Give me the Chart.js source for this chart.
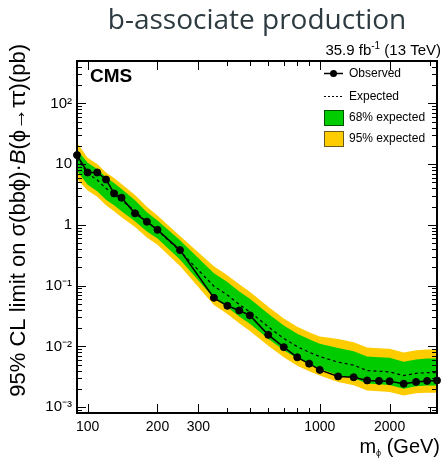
<!DOCTYPE html>
<html><head><meta charset="utf-8">
<script src="https://cdn.jsdelivr.net/npm/chart.js@4/dist/chart.umd.min.js"></script>
<style>html,body{margin:0;padding:0;background:#fff;}#wrap{width:442px;height:460px;}</style>
</head><body><div id="wrap"><canvas id="c" width="442" height="460"></canvas></div>
<script>
const masses = [90,100,110,120,130,140,160,180,200,250,350,400,450,500,600,700,800,900,1000,1200,1400,1600,1800,2000,2300,2600,2900,3200];
const observed = [14.1,7.3,7.3,5.6,3.3,2.8,1.55,1.13,0.83,0.385,0.063,0.0466,0.039,0.0324,0.0155,0.0097,0.0066,0.0052,0.0041,0.0032,0.0031,0.00275,0.0027,0.00267,0.00242,0.0026,0.0027,0.00275];
const expected = [12.6,7.0,5.5,4.0,3.2,2.55,1.7,1.1,0.82,0.37,0.098,0.070,0.049,0.037,0.021,0.0135,0.0099,0.008,0.0068,0.0055,0.0049,0.0040,0.0039,0.0038,0.0033,0.0036,0.0037,0.0037];
const band68Up = [17.5,10.6,8.3,6.1,4.9,3.9,2.55,1.62,1.18,0.56,0.160,0.115,0.080,0.061,0.0344,0.0221,0.0162,0.0131,0.0111,0.0094,0.0083,0.0068,0.0066,0.0065,0.0056,0.0061,0.0063,0.0063];
const band68Down = [7.8,4.6,3.6,2.6,2.1,1.68,1.15,0.78,0.60,0.27,0.062,0.044,0.031,0.0235,0.0133,0.0086,0.0063,0.0051,0.0043,0.00336,0.0030,0.00244,0.00238,0.00232,0.0020,0.0022,0.00226,0.00226];
const band95Up = [22.5,12.8,10.1,7.3,5.9,4.7,3.1,2.0,1.43,0.66,0.209,0.149,0.105,0.079,0.045,0.0288,0.0211,0.0171,0.0145,0.0132,0.0117,0.0096,0.0093,0.0091,0.0079,0.0086,0.0089,0.0089];
const band95Down = [5.7,3.7,2.9,2.1,1.68,1.34,0.92,0.62,0.47,0.21,0.048,0.034,0.024,0.018,0.0102,0.0066,0.0048,0.0039,0.0033,0.00258,0.0023,0.00187,0.00183,0.00178,0.00155,0.00169,0.00173,0.00173];
const xTickValues = [100,200,300,1000,2000];
const xTickLabels = ['100','200','300','1000','2000'];
const xMinorValues = [90,400,500,600,700,800,900,3000];
const yTickValues = [1e-3,1e-2,1e-1,1,10,100];
const yTickLabels = ['10\u207B\u00B3','10\u207B\u00B2','10\u207B\u00B9','1','10','10\u00B2'];
const legendLabels = ['Observed','Expected','68% expected','95% expected'];

const SANS = '"Liberation Sans", Arial, sans-serif';
const pts = arr => masses.map((m,i)=>({x:m, y:arr[i]}));

function drawParts(ctx, parts, x, y){
  let cx = x;
  for (const p of parts){
    ctx.font = p.font;
    ctx.fillText(p.t, cx, y + (p.dy||0));
    cx += ctx.measureText(p.t).width;
  }
  return cx - x;
}
function partsWidth(ctx, parts){
  let w = 0;
  for (const p of parts){ ctx.font = p.font; w += ctx.measureText(p.t).width; }
  return w;
}

const decor = {
  id:'decor',
  afterDraw(chart){
    const ctx = chart.ctx, a = chart.chartArea;
    const xs = chart.scales.x, ys = chart.scales.y;
    ctx.save();
    ctx.strokeStyle = '#000';
    ctx.lineWidth = 1;
    for (let d=-4; d<=2; d++){
      for (let k=1; k<=9; k++){
        const v = k*Math.pow(10,d);
        if (v < ys.min || v > ys.max) continue;
        const p = Math.round(ys.getPixelForValue(v))+0.5;
        const len = k===1 ? 9 : 5;
        ctx.beginPath();
        ctx.moveTo(a.left, p); ctx.lineTo(a.left+len, p);
        ctx.moveTo(a.right, p); ctx.lineTo(a.right-len, p);
        ctx.stroke();
      }
    }
    const xt = xTickValues.map(v=>[v,9]).concat(xMinorValues.map(v=>[v,5]));
    for (const [v,len] of xt){
      if (v < xs.min || v > xs.max) continue;
      const p = Math.round(xs.getPixelForValue(v))+0.5;
      ctx.beginPath();
      ctx.moveTo(p, a.bottom); ctx.lineTo(p, a.bottom-len);
      ctx.moveTo(p, a.top); ctx.lineTo(p, a.top+len);
      ctx.stroke();
    }
    ctx.lineWidth = 2;
    ctx.strokeRect(a.left, a.top, a.right-a.left, a.bottom-a.top);

    ctx.fillStyle = '#000';
    ctx.textBaseline = 'alphabetic';
    ctx.font = 'bold 19px ' + SANS;
    ctx.textAlign = 'left';
    ctx.fillText('CMS', 90, 82);
    const lumi = [
      {t:'35.9 fb', font:'15px '+SANS},
      {t:'-1', font:'10px '+SANS, dy:-6},
      {t:' (13 TeV)', font:'15px '+SANS}
    ];
    const lw = partsWidth(ctx, lumi);
    drawParts(ctx, lumi, 441 - lw, 55);
    const xtitle = [
      {t:'m', font:'20px '+SANS},
      {t:'\u03D5', font:'9px '+SANS, dy:3},
      {t:' (GeV)', font:'20px '+SANS}
    ];
    const xw = partsWidth(ctx, xtitle);
    drawParts(ctx, xtitle, 440 - xw, 453);
    const ytitle = [
      {t:'95% CL limit on \u03C3(bb\u03D5)\u00B7', font:'22px '+SANS},
      {t:'B', font:'italic 22px '+SANS},
      {t:'(\u03D5\u2192\u03C4\u03C4)(pb)', font:'22px '+SANS}
    ];
    const yw = partsWidth(ctx, ytitle);
    ctx.save();
    ctx.translate(25, 44 + yw);
    ctx.rotate(-Math.PI/2);
    drawParts(ctx, ytitle, 0, 0);
    ctx.restore();

    ctx.textBaseline = 'middle';
    ctx.font = '12px ' + SANS;
    ctx.lineWidth = 1.5;
    ctx.beginPath(); ctx.moveTo(324,73.5); ctx.lineTo(343,73.5); ctx.stroke();
    ctx.beginPath(); ctx.arc(333.5,73.5,3.5,0,Math.PI*2); ctx.fill();
    ctx.fillText(legendLabels[0], 349, 73.5);
    ctx.lineWidth = 1;
    ctx.setLineDash([2,2]);
    ctx.beginPath(); ctx.moveTo(324,96.5); ctx.lineTo(343,96.5); ctx.stroke();
    ctx.setLineDash([]);
    ctx.fillText(legendLabels[1], 349, 96.5);
    ctx.fillStyle = '#00cc00'; ctx.fillRect(324.5,110.5,19,15);
    ctx.strokeStyle = '#005000'; ctx.strokeRect(324.5,110.5,19,15);
    ctx.fillStyle = '#000'; ctx.fillText(legendLabels[2], 349, 118);
    ctx.fillStyle = '#ffcc00'; ctx.fillRect(324.5,131.5,19,15);
    ctx.strokeStyle = '#6b5a20'; ctx.strokeRect(324.5,131.5,19,15);
    ctx.fillStyle = '#000'; ctx.fillText(legendLabels[3], 349, 139);
    ctx.restore();
  }
};

const none = 'rgba(0,0,0,0)';
new Chart(document.getElementById('c'), {
  type:'line',
  data:{ datasets:[
    {label:'Observed', data:pts(observed), borderColor:'#000', backgroundColor:'#000', borderWidth:1.5,
     pointRadius:3.5, pointBackgroundColor:'#000', pointBorderColor:'#000', pointBorderWidth:1, fill:false, order:0, clip:6},
    {label:'Expected', data:pts(expected), borderColor:'#000', borderWidth:1.2, borderDash:[3,3], pointRadius:0, fill:false, order:1},
    {label:'68% up', data:pts(band68Up), borderColor:none, borderWidth:0, pointRadius:0, backgroundColor:'#00cc00', fill:'+1', order:2},
    {label:'68% down', data:pts(band68Down), borderColor:none, borderWidth:0, pointRadius:0, backgroundColor:none, fill:false, order:3},
    {label:'95% up', data:pts(band95Up), borderColor:none, borderWidth:0, pointRadius:0, backgroundColor:'#ffcc00', fill:'+1', order:4},
    {label:'95% down', data:pts(band95Down), borderColor:none, borderWidth:0, pointRadius:0, backgroundColor:none, fill:false, order:5}
  ]},
  options:{
    responsive:false, animation:false, devicePixelRatio:1,
    layout:{padding:{left:0,right:2,top:0,bottom:0}},
    elements:{line:{tension:0}},
    plugins:{
      legend:{display:false},
      tooltip:{enabled:false},
      title:{display:true, text:'b-associate production', fullSize:false, align:'center', color:'#2d3b41',
        font:{family:'"Open Sans", sans-serif', size:28, weight:'normal'}, padding:{top:4,bottom:23.4}}
    },
    scales:{
      x:{type:'logarithmic', min:90, max:3200,
        afterBuildTicks: s => { s.ticks = xTickValues.map(v=>({value:v})); },
        afterFit: s => { s.height = 47; },
        ticks:{autoSkip:false, maxRotation:0, padding:6, color:'#000', font:{family:SANS, size:14},
          callback: v => xTickLabels[xTickValues.indexOf(v)]},
        grid:{display:false, drawTicks:false}, border:{display:false}},
      y:{type:'logarithmic', min:8e-4, max:500,
        afterBuildTicks: s => { s.ticks = yTickValues.map(v=>({value:v})); },
        afterFit: s => { s.width = 77; },
        ticks:{autoSkip:false, padding:5, color:'#000', font:{family:SANS, size:15},
          callback: v => yTickLabels[yTickValues.indexOf(v)]},
        grid:{display:false, drawTicks:false}, border:{display:false}}
    }
  },
  plugins:[decor]
});
</script></body></html>
